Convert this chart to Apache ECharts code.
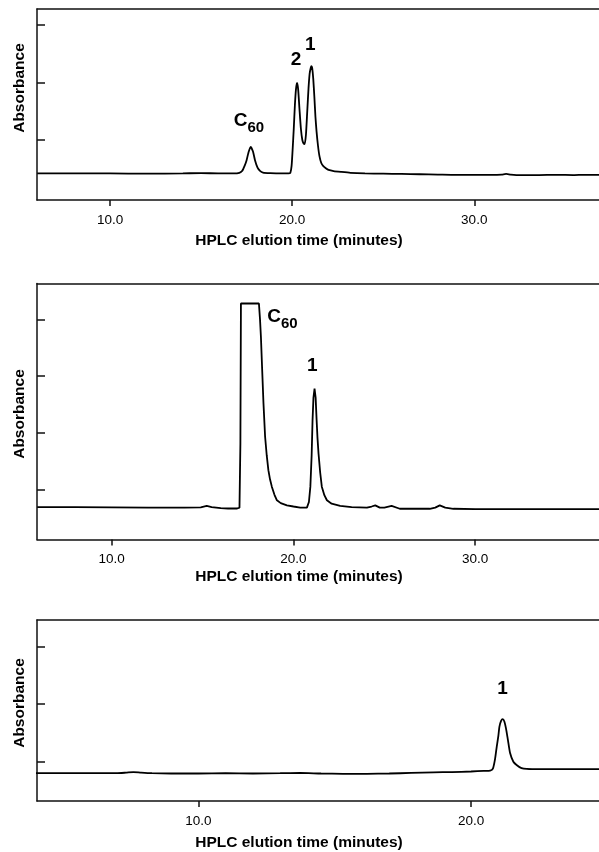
<!DOCTYPE html>
<html><head><meta charset="utf-8">
<script src="https://cdn.jsdelivr.net/npm/echarts@6/dist/echarts.min.js"></script>
<style>html,body{margin:0;padding:0;background:#fff}#c{width:599px;height:852px}</style>
</head><body><div id="c"></div>
<script>
// ---------- data ----------
const xTicks1 = [10, 20, 30];
const xTicks2 = [10, 20, 30];
const xTicks3 = [10, 20];
const yTicks1 = [1, 2, 3];
const yTicks2 = [1, 2, 3, 4];
const yTicks3 = [1, 2, 3];

const time1 = [6.0, 8.0, 10.0, 12.0, 14.0, 15.0, 16.0, 16.8, 17.1, 17.25, 17.4, 17.5, 17.6, 17.72, 17.85, 17.96, 18.1, 18.25, 18.4, 18.8, 19.4, 19.8, 19.9, 19.97, 20.03, 20.09, 20.15, 20.21, 20.27, 20.33, 20.4, 20.48, 20.56, 20.63, 20.69, 20.76, 20.83, 20.9, 20.96, 21.02, 21.06, 21.1, 21.16, 21.22, 21.28, 21.34, 21.42, 21.5, 21.6, 21.7, 21.85, 22.0, 22.28, 22.7, 23.2, 24.0, 25.0, 26.0, 27.0, 28.0, 29.0, 30.0, 31.0, 31.5, 31.75, 32.0, 32.5, 33.5, 34.5, 35.5, 36.0, 36.9];
const abs1 = [0.42, 0.42, 0.42, 0.415, 0.42, 0.425, 0.42, 0.42, 0.43, 0.46, 0.56, 0.65, 0.78, 0.88, 0.80, 0.65, 0.52, 0.46, 0.435, 0.425, 0.42, 0.42, 0.43, 0.55, 0.85, 1.2, 1.6, 1.88, 1.99, 1.88, 1.55, 1.2, 1.0, 0.94, 0.93, 1.1, 1.5, 1.9, 2.15, 2.25, 2.28, 2.25, 2.06, 1.75, 1.4, 1.15, 0.9, 0.72, 0.6, 0.55, 0.51, 0.48, 0.46, 0.445, 0.43, 0.42, 0.415, 0.41, 0.405, 0.40, 0.395, 0.395, 0.395, 0.40, 0.41, 0.40, 0.39, 0.39, 0.395, 0.39, 0.395, 0.395];

const time2 = [5.9, 8.0, 10.0, 12.0, 14.0, 14.9, 15.23, 15.5, 16.0, 16.4, 16.9, 17.03, 17.08, 17.11, 17.6, 18.1, 18.16, 18.21, 18.28, 18.35, 18.44, 18.53, 18.62, 18.71, 18.81, 18.95, 19.09, 19.3, 19.64, 20.0, 20.37, 20.74, 20.85, 20.93, 21.0, 21.05, 21.1, 21.16, 21.22, 21.27, 21.32, 21.38, 21.47, 21.56, 21.7, 21.84, 22.1, 22.57, 23.2, 24.04, 24.3, 24.5, 24.75, 25.0, 25.4, 25.85, 26.5, 27.5, 27.8, 28.05, 28.35, 28.8, 30, 32, 34, 36.9];
const abs2 = [0.69, 0.69, 0.685, 0.68, 0.68, 0.685, 0.71, 0.69, 0.67, 0.665, 0.665, 0.68, 1.8, 4.28, 4.28, 4.28, 4.0, 3.69, 3.1, 2.52, 1.93, 1.6, 1.34, 1.18, 1.05, 0.91, 0.81, 0.76, 0.72, 0.70, 0.68, 0.68, 0.78, 1.05, 1.6, 2.22, 2.62, 2.78, 2.62, 2.25, 1.92, 1.63, 1.3, 1.05, 0.9, 0.81, 0.75, 0.71, 0.69, 0.68, 0.70, 0.72, 0.68, 0.68, 0.71, 0.66, 0.66, 0.66, 0.68, 0.72, 0.68, 0.66, 0.655, 0.655, 0.655, 0.655];

const time3 = [4.0, 5.0, 6.0, 7.0, 7.35, 7.62, 7.9, 8.3, 9.0, 10.0, 11.0, 12.0, 13.0, 13.73, 14.5, 15.3, 16.18, 17.0, 17.8, 18.62, 19.3, 20.0, 20.46, 20.7, 20.8, 20.88, 20.94, 21.0, 21.04, 21.1, 21.16, 21.22, 21.28, 21.35, 21.43, 21.55, 21.68, 21.85, 22.04, 22.5, 23.0, 24.0, 24.7];
const abs3 = [0.80, 0.80, 0.80, 0.80, 0.81, 0.82, 0.81, 0.80, 0.795, 0.795, 0.80, 0.795, 0.80, 0.805, 0.795, 0.79, 0.79, 0.795, 0.805, 0.815, 0.82, 0.83, 0.84, 0.845, 0.88, 1.05, 1.26, 1.45, 1.61, 1.71, 1.74, 1.70, 1.58, 1.38, 1.15, 1.0, 0.94, 0.89, 0.875, 0.87, 0.87, 0.87, 0.87];

const peakNames1 = ['C60', '2', '1'];
const peakTimes1 = [17.63, 20.22, 20.99];
const peakAbs1 = [1.217, 2.39, 2.65];
const peakNames2 = ['C60', '1'];
const peakTimes2 = [19.39, 21.03];
const peakAbs2 = [3.93, 3.18];
const peakNames3 = ['1'];
const peakTimes3 = [21.15];
const peakAbs3 = [2.26];

const xTitle = 'HPLC elution time (minutes)';
const yTitle = 'Absorbance';

// ---------- chart ----------
const FONT = '"Liberation Sans", Arial, Helvetica, sans-serif';
const chart = echarts.init(document.getElementById('c'), null, {renderer: 'canvas'});

const grids = [
  {left: 37, top: 9, right: 0, height: 191},
  {left: 37, top: 283.5, right: 0, height: 256},
  {left: 37, top: 620, right: 0, height: 181}
];
const xRanges = [[5.99, 36.85], [5.89, 36.81], [4.085, 24.69]];
const yRanges = [[-0.042, 3.274], [0.118, 4.633], [0.317, 3.464]];
const xTicks = [xTicks1, xTicks2, xTicks3];
const yTicks = [yTicks1, yTicks2, yTicks3];
const smoothing = [0.2, false, 0.2];
const lineCol = '#111';

const xAxes = [], yAxes = [], series = [];
for (let i = 0; i < 3; i++) {
  xAxes.push({
    type: 'value', gridIndex: i, position: 'bottom',
    min: xRanges[i][0], max: xRanges[i][1],
    axisLine: {show: true, onZero: false, lineStyle: {color: lineCol, width: 1.5}},
    axisTick: {show: true, inside: false, length: 6, customValues: xTicks[i], lineStyle: {color: lineCol, width: 1.5}},
    axisLabel: {show: true, customValues: xTicks[i], margin: 13, color: '#000', fontSize: 13.5, fontFamily: FONT,
      formatter: v => v.toFixed(1)},
    splitLine: {show: false}
  });
  xAxes.push({
    type: 'value', gridIndex: i, position: 'top',
    min: xRanges[i][0], max: xRanges[i][1],
    axisLine: {show: true, onZero: false, lineStyle: {color: lineCol, width: 1.5}},
    axisTick: {show: false}, axisLabel: {show: false}, splitLine: {show: false}
  });
  yAxes.push({
    type: 'value', gridIndex: i,
    min: yRanges[i][0], max: yRanges[i][1],
    axisLine: {show: true, onZero: false, lineStyle: {color: lineCol, width: 1.5}},
    axisTick: {show: true, inside: true, length: 8, customValues: yTicks[i], lineStyle: {color: lineCol, width: 1.5}},
    axisLabel: {show: false}, splitLine: {show: false}
  });
}

const times = [time1, time2, time3];
const absVals = [abs1, abs2, abs3];
for (let i = 0; i < 3; i++) {
  series.push({
    type: 'line', xAxisIndex: 2 * i, yAxisIndex: i,
    data: times[i].map((t, k) => [t, absVals[i][k]]),
    showSymbol: false, symbol: 'none', smooth: smoothing[i], silent: true,
    lineStyle: {color: '#000', width: 1.8}
  });
}

const rich = {
  c: {fontSize: 19, fontWeight: 'bold', fontFamily: FONT, color: '#000', lineHeight: 20, verticalAlign: 'top'},
  s: {fontSize: 15, fontWeight: 'bold', fontFamily: FONT, color: '#000', lineHeight: 32, verticalAlign: 'middle'},
  d: {fontSize: 19, fontWeight: 'bold', fontFamily: FONT, color: '#000'}
};
const pNames = [peakNames1, peakNames2, peakNames3];
const pTimes = [peakTimes1, peakTimes2, peakTimes3];
const pAbs = [peakAbs1, peakAbs2, peakAbs3];
for (let i = 0; i < 3; i++) {
  series.push({
    type: 'scatter', xAxisIndex: 2 * i, yAxisIndex: i, silent: true,
    symbolSize: 1, itemStyle: {color: 'transparent', opacity: 1},
    data: pNames[i].map((n, k) => ({name: n, value: [pTimes[i][k], pAbs[i][k]]})),
    label: {
      show: true, position: 'inside', rich: rich, color: '#000', opacity: 1,
      textBorderWidth: 0, textBorderColor: 'transparent',
      formatter: p => p.name === 'C60' ? '{c|C}{s|60}' : '{d|' + p.name + '}'
    }
  });
}

const titleY = [241, 577, 843];
const absY = [88, 414, 703];
const graphics = [];
for (let i = 0; i < 3; i++) {
  graphics.push({type: 'text', x: 299, y: titleY[i], silent: true,
    style: {text: xTitle, font: 'bold 15.5px ' + FONT, fill: '#000', align: 'center', verticalAlign: 'middle'}});
  graphics.push({type: 'text', x: 20, y: absY[i], rotation: Math.PI / 2, silent: true,
    style: {text: yTitle, font: 'bold 15.5px ' + FONT, fill: '#000', align: 'center', verticalAlign: 'middle'}});
}

chart.setOption({
  animation: false,
  backgroundColor: '#fff',
  grid: grids,
  xAxis: xAxes,
  yAxis: yAxes,
  series: series,
  graphic: graphics
});
</script></body></html>
